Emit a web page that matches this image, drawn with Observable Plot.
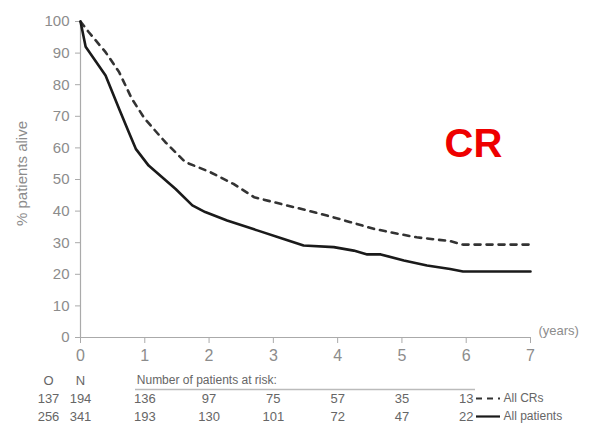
<!DOCTYPE html>
<html><head><meta charset="utf-8">
<script src="https://cdn.jsdelivr.net/npm/d3@7"></script>
<script src="https://cdn.jsdelivr.net/npm/@observablehq/plot@0.6"></script>
<style>
body{margin:0;background:#fff;}
#wrap{width:598px;height:436px;overflow:hidden;}
#wrap svg{display:block;}
</style>
</head><body><div id="wrap"></div>
<script>
// ---- data ----
const allTime = [0, 0.08, 0.39, 0.6, 0.75, 0.86, 1.06, 1.48, 1.74, 1.94, 2.28, 2.75, 3.16, 3.47, 3.94, 4.25, 4.46, 4.67, 5.03, 5.39, 5.75, 5.95, 7.0];
const allSurv = [100, 92, 82.9, 72.4, 65, 59.7, 54.4, 47, 41.8, 39.7, 37, 33.9, 31.2, 29.1, 28.6, 27.5, 26.3, 26.3, 24.4, 22.8, 21.7, 20.9, 20.9];
const crTime = [0, 0.13, 0.39, 0.6, 0.8, 1.0, 1.32, 1.63, 2.0, 2.38, 2.7, 3.11, 3.53, 3.94, 4.2, 4.56, 4.82, 5.23, 5.75, 5.95, 7.0];
const crSurv = [100, 96.6, 90.3, 84, 75.5, 69.2, 61.8, 55.5, 52.5, 48.6, 44.4, 42.3, 40.2, 38, 36.5, 34.4, 33.3, 31.7, 30.5, 29.4, 29.4];
const xTicks = [0, 1, 2, 3, 4, 5, 6, 7];
const yTicks = [0, 10, 20, 30, 40, 50, 60, 70, 80, 90, 100];
const riskYears = [1, 2, 3, 4, 5, 6];
const riskCR = [136, 97, 75, 57, 35, 13];
const riskAll = [193, 130, 101, 72, 47, 22];
const rows = ["head", "cr", "all"];
const observed = [137, 256];
const nPatients = [194, 341];
const seriesNames = ["All CRs", "All patients"];

const allData = allTime.map((t, i) => ({t, v: allSurv[i]}));
const crData = crTime.map((t, i) => ({t, v: crSurv[i]}));

const gray = "#8c8c8c";
const font = "'Liberation Sans', Arial, sans-serif";
const narrow = "'Liberation Sans Narrow', 'Arial Narrow', 'Liberation Sans', sans-serif";

const main = Plot.plot({
  width: 598, height: 372,
  marginLeft: 80, marginRight: 68, marginTop: 21, marginBottom: 35,
  style: {fontFamily: font, background: "white", color: gray, overflow: "visible"},
  x: {domain: [0, 7]},
  y: {domain: [0, 100]},
  marks: [
    Plot.axisY({ticks: yTicks, tickFormat: "d", tickSize: 5, tickPadding: 6, fontSize: 15, stroke: "#aaa", fill: gray, label: null}),
    Plot.axisX({ticks: xTicks, tickFormat: "d", tickSize: 6, tickPadding: 6, fontSize: 16, stroke: "#aaa", fill: gray, label: null}),
    Plot.ruleX([0], {stroke: "#aaa", strokeWidth: 1.2}),
    Plot.ruleY([0], {stroke: "#aaa", strokeWidth: 1.2}),
    Plot.line(crData, {x: "t", y: "v", stroke: "#333", strokeWidth: 2.6, strokeDasharray: "6,6"}),
    Plot.line(allData, {x: "t", y: "v", stroke: "#1a1a1a", strokeWidth: 2.6}),
    Plot.text(["% patients alive"], {frameAnchor: "left", textAnchor: "middle", rotate: -90, dx: -58, dy: -6, fontSize: 15, fill: gray}),
    Plot.text(["(years)"], {frameAnchor: "bottom-right", textAnchor: "start", dx: 8, dy: -3, fontSize: 13, fill: gray}),
    Plot.text(["CR"], {frameAnchor: "top-right", textAnchor: "middle", dx: -57, dy: 107, fontSize: 40, fontWeight: "bold", fill: "#ee0000"})
  ]
});

const headRow = [{y: "head"}];
const table = Plot.plot({
  width: 598, height: 64,
  marginLeft: 80, marginRight: 68, marginTop: 0, marginBottom: 0,
  style: {fontFamily: narrow, background: "white", color: "#666", overflow: "visible"},
  x: {domain: [0, 7], axis: null},
  y: {type: "point", domain: rows, range: [7, 44], padding: 0, axis: null},
  marks: [
    Plot.text(["O"], {x: 0, y: () => "head", dx: -32, fontSize: 13, fill: "#666"}),
    Plot.text(["N"], {x: 0, y: () => "head", fontSize: 13, fill: "#666"}),
    Plot.text(["Number of patients at risk:"], {x: 1, y: () => "head", dx: -8, textAnchor: "start", fontSize: 12, fill: "#666"}),
    Plot.ruleY(headRow, {y: "y", dy: 9, insetLeft: 55, insetRight: 55, stroke: "#bbb", strokeWidth: 1.5}),
    Plot.text(observed, {x: 0, y: (d, i) => rows[i + 1], text: d => d, dx: -32, fontSize: 13, fill: "#666"}),
    Plot.text(nPatients, {x: 0, y: (d, i) => rows[i + 1], text: d => d, fontSize: 13, fill: "#666"}),
    Plot.text(riskCR, {x: (d, i) => riskYears[i], y: () => "cr", text: d => d, fontSize: 13, fill: "#666"}),
    Plot.text(riskAll, {x: (d, i) => riskYears[i], y: () => "all", text: d => d, fontSize: 13, fill: "#666"}),
    Plot.ruleY(["cr"], {y: d => d, insetLeft: 396, insetRight: 30, stroke: "#333", strokeWidth: 2.2, strokeDasharray: "6,5"}),
    Plot.ruleY(["all"], {y: d => d, insetLeft: 396, insetRight: 30, stroke: "#1a1a1a", strokeWidth: 2.2}),
    Plot.text(seriesNames, {frameAnchor: "right", y: (d, i) => rows[i + 1], text: d => d, textAnchor: "start", dx: -27, fontSize: 12, fill: "#666"})
  ]
});

const wrap = document.getElementById("wrap");
wrap.appendChild(main);
wrap.appendChild(table);
</script>
</body></html>
